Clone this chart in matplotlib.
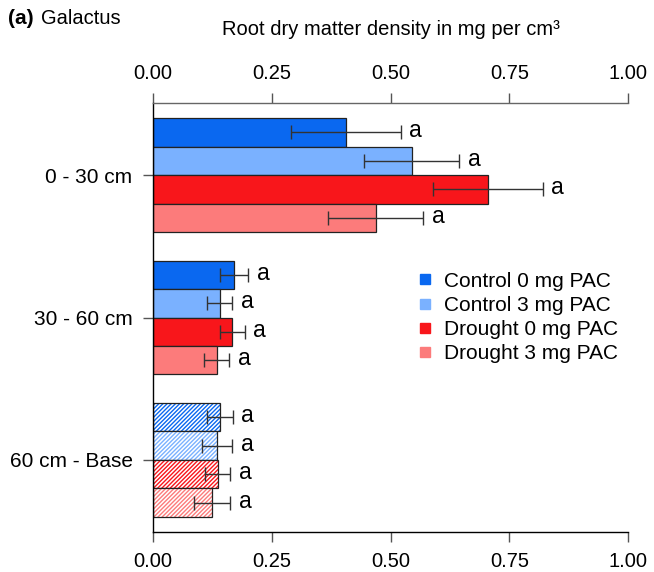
import numpy as np
import matplotlib
matplotlib.use("Agg")
from matplotlib import pyplot as plt
from matplotlib.lines import Line2D

plt.rcParams["font.family"] = ["Liberation Sans", "DejaVu Sans"]
plt.rcParams["font.size"] = 14.5
plt.rcParams["hatch.linewidth"] = 1.0

depths = ["0 - 30 cm", "30 - 60 cm", "60 cm - Base"]
treatments = ["Control 0 mg PAC", "Control 3 mg PAC", "Drought 0 mg PAC", "Drought 3 mg PAC"]
colors = ["#0A68F0", "#7AB1FF", "#F8161B", "#FC7B7B"]

# mean root dry matter density (mg/cm3) per depth
control_0 = [0.406, 0.171, 0.141]
control_3 = [0.545, 0.140, 0.135]
drought_0 = [0.705, 0.167, 0.136]
drought_3 = [0.469, 0.134, 0.125]

# standard errors
control_0_se = [0.116, 0.030, 0.027]
control_3_se = [0.100, 0.027, 0.032]
drought_0_se = [0.115, 0.026, 0.027]
drought_3_se = [0.100, 0.027, 0.038]

letters = ["a", "a", "a"]

means = [control_0, control_3, drought_0, drought_3]
errors = [control_0_se, control_3_se, drought_0_se, drought_3_se]

fig = plt.figure(figsize=(6.54, 5.72), dpi=100)
ax = fig.add_axes([153 / 654, 1 - 532 / 572, 475 / 654, 429 / 572])

group_gap = 5.0
centers = np.arange(len(depths)) * group_gap
offsets = [-1.5, -0.5, 0.5, 1.5]

for k in range(len(treatments)):
    y = centers + offsets[k]
    for d in range(len(depths)):
        if d == 2:
            # deepest layer drawn hatched
            ax.barh(y[d], means[k][d], height=1.0, color="white",
                    edgecolor=colors[k], hatch="////////", linewidth=0)
            ax.barh(y[d], means[k][d], height=1.0, fill=False,
                    edgecolor="#222222", linewidth=0.9)
        else:
            ax.barh(y[d], means[k][d], height=1.0, color=colors[k],
                    edgecolor="#222222", linewidth=0.9)
    ax.errorbar(means[k], y, xerr=errors[k], fmt="none", ecolor="#333333",
                elinewidth=1.0, capsize=5, capthick=1.0)
    for d in range(len(depths)):
        ax.annotate(letters[d], (means[k][d] + errors[k][d], y[d]),
                    xytext=(6, 1), textcoords="offset points",
                    va="center", ha="left", fontsize=16.5)

ax.set_xlim(0, 1)
ax.set_ylim(centers[-1] + 2.53, centers[0] - 2.53)
ax.set_xticks([0, 0.25, 0.5, 0.75, 1.0])
ax.set_xticklabels(["0.00", "0.25", "0.50", "0.75", "1.00"])
ax.set_yticks(centers)
ax.set_yticklabels(depths, fontsize=15)

ax.tick_params(axis="x", top=True, labeltop=True, bottom=True, labelbottom=True,
               length=7.2, width=1.0, color="#555555", pad=7)
ax.tick_params(axis="y", length=7.2, width=1.0, color="#555555", pad=7.5)

ax.spines["right"].set_visible(False)
ax.spines["top"].set_color("#666666")
ax.spines["top"].set_linewidth(1.0)
ax.spines["bottom"].set_linewidth(1.0)
ax.spines["left"].set_linewidth(1.0)

ax.xaxis.set_label_position("top")
ax.set_xlabel("Root dry matter density in mg per cm³", fontsize=14.5, labelpad=21)

handles = [Line2D([], [], marker="s", linestyle="none", markersize=7.5,
                  markerfacecolor=c, markeredgecolor=c) for c in colors]
ax.legend(handles, treatments, loc="center left",
          bbox_to_anchor=(0.556, 1 - (317.5 - 103) / 429), frameon=False,
          borderpad=0, borderaxespad=0, handlelength=0.8, handletextpad=0.5,
          labelspacing=0.25, fontsize=15)

fig.text(8 / 654, 1 - 18 / 572, "(a)", fontweight="bold", fontsize=15,
         ha="left", va="center")
fig.text(41 / 654, 1 - 18 / 572, "Galactus", fontsize=14.5, ha="left", va="center")

fig.savefig("out.png", dpi=100)
